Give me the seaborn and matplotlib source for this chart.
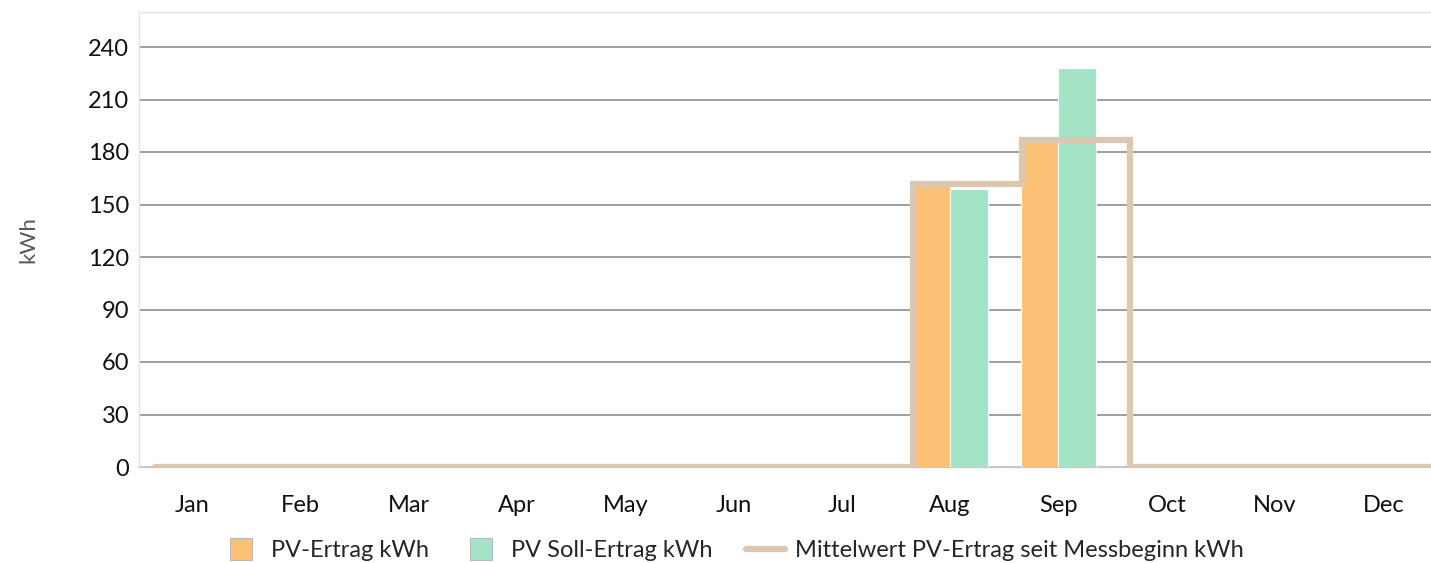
import numpy as np
import pandas as pd
import matplotlib
matplotlib.use("Agg")
import matplotlib.pyplot as plt
from matplotlib.lines import Line2D
import seaborn as sns

months = ['Jan', 'Feb', 'Mar', 'Apr', 'May', 'Jun', 'Jul', 'Aug', 'Sep', 'Oct', 'Nov', 'Dec']
pv_ertrag = [0, 0, 0, 0, 0, 0, 0, 162, 187, 0, 0, 0]
pv_soll = [0, 0, 0, 0, 0, 0, 0, 159, 228, 0, 0, 0]
mittelwert = [0, 0, 0, 0, 0, 0, 0, 162, 187, 0, 0, 0]
series_names = ['PV-Ertrag kWh', 'PV Soll-Ertrag kWh']
line_name = 'Mittelwert PV-Ertrag seit Messbeginn kWh'
y_ticks = [0, 30, 60, 90, 120, 150, 180, 210, 240]

c_orange = '#FDC176'
c_green = '#A5E3C6'
c_line = '#DCC7B0'

sns.set_theme(style="white")
plt.rcParams['font.family'] = ['Lato', 'DejaVu Sans']

df = pd.DataFrame({
    'month': months * 2,
    'series': [series_names[0]] * 12 + [series_names[1]] * 12,
    'value': pv_ertrag + pv_soll,
})

fig = plt.figure(figsize=(14.31, 5.63), dpi=100)
ax = fig.add_axes([139 / 1431, 1 - 467 / 563, 1 - 139 / 1431, (467 - 12) / 563])

sns.barplot(data=df, x='month', y='value', hue='series', order=months,
            palette={series_names[0]: c_orange, series_names[1]: c_green},
            width=0.69, gap=0, edgecolor='white', linewidth=0.8,
            saturation=1, legend=False, ax=ax, zorder=3)

# step line for the long-term mean, starting at the left edge of each bar group
step_x = np.arange(len(months) + 1) - 0.34
step_y = mittelwert + [0]
ax.plot(step_x, step_y, drawstyle='steps-post', color=c_line, lw=4.5,
        zorder=4, solid_joinstyle='miter')

ax.set_xlim(-0.49, 11.44)
ax.set_ylim(0, 260)
ax.set_yticks(y_ticks)
ax.yaxis.grid(True, color='#9f9f9f', lw=1.4, zorder=0)
ax.set_axisbelow(True)
ax.tick_params(axis='both', length=0, labelsize=17, colors='#111111')
ax.tick_params(axis='y', pad=7)
ax.tick_params(axis='x', pad=20)
ax.set_xlabel('')
ax.set_ylabel('kWh', fontsize=16, color='#595959', labelpad=36)

for side in ['left', 'top']:
    ax.spines[side].set_color('#e4e4e4')
    ax.spines[side].set_linewidth(1.0)
ax.spines['right'].set_visible(False)
ax.spines['bottom'].set_color('#c8c8c8')
ax.spines['bottom'].set_linewidth(1.6)
ax.spines['bottom'].set_zorder(2)

handles = [
    Line2D([], [], marker='s', markersize=16, linestyle='', markerfacecolor=c_orange,
           markeredgecolor='#b0b0b0', markeredgewidth=0.6),
    Line2D([], [], marker='s', markersize=16, linestyle='', markerfacecolor=c_green,
           markeredgecolor='#b0b0b0', markeredgewidth=0.6),
    Line2D([], [], color=c_line, lw=4.5),
]
fig.legend(handles, series_names + [line_name], loc='center', ncol=3,
           bbox_to_anchor=(0.512, 0.022), frameon=False, fontsize=17,
           handlelength=1.65, handletextpad=0.45, columnspacing=1.4)

fig.savefig('out.png', dpi=100)
